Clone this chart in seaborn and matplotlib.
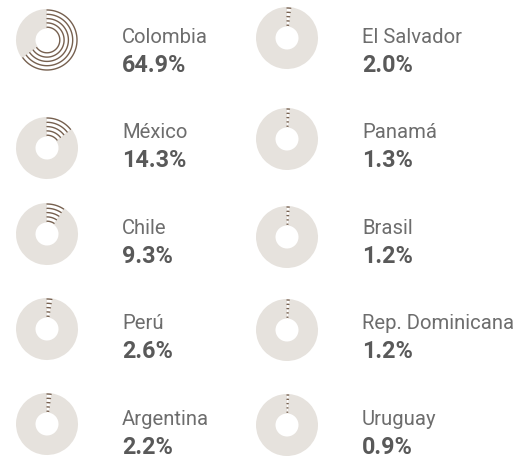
import numpy as np
import pandas as pd
import matplotlib
matplotlib.use("Agg")
import matplotlib.pyplot as plt
from matplotlib.patches import Wedge
import seaborn as sns

# Data
countries = ["Colombia", "México", "Chile", "Perú", "Argentina",
             "El Salvador", "Panamá", "Brasil", "Rep. Dominicana", "Uruguay"]
shares = [64.9, 14.3, 9.3, 2.6, 2.2, 2.0, 1.3, 1.2, 1.2, 0.9]
share_labels = ["64.9%", "14.3%", "9.3%", "2.6%", "2.2%",
                "2.0%", "1.3%", "1.2%", "1.2%", "0.9%"]

# Layout (pixels from top-left)
W, H = 519, 460
DONUT_X = [47, 287]
DONUT_Y = [[41, 149, 235, 330, 425], [39, 140, 238, 331, 426]]
TEXT_X = [122, 362]
NAME_BASE = [43, 138, 234, 329, 425]
PCT_OFFSET = 29
R_OUT, R_IN = 31, 11.5
ARC_RADII = [12.8, 17.1, 21.4, 25.7, 30.0]

BEIGE = "#e6e2dd"
BROWN = "#76604f"
NAME_COLOR = "#6d6d6d"
PCT_COLOR = "#595959"

sns.set_theme(style="white")
plt.rcParams["font.family"] = ["Roboto", "DejaVu Sans"]

fig = plt.figure(figsize=(W / 100, H / 100), dpi=100)
ax = fig.add_axes([0, 0, 1, 1])

rows = []
for i, (name, share, lab) in enumerate(zip(countries, shares, share_labels)):
    col, row = divmod(i, 5)
    cx = DONUT_X[col]
    cy = H - DONUT_Y[col][row]
    end = 90 - 360 * share / 100
    # remaining share as a beige ring
    ax.add_patch(Wedge((cx, cy), R_OUT, -270, end, width=R_OUT - R_IN,
                       facecolor=BEIGE, edgecolor="none"))
    # share itself as concentric arcs, clockwise from 12 o'clock
    theta = np.radians(np.linspace(90, end, 120))
    for k, r in enumerate(ARC_RADII):
        rows.append(pd.DataFrame({"x": cx + r * np.cos(theta),
                                  "y": cy + r * np.sin(theta),
                                  "arc": f"{i}-{k}"}))
    tx = TEXT_X[col]
    ax.text(tx, H - NAME_BASE[row], name, fontsize=14.6, color=NAME_COLOR,
            ha="left", va="baseline")
    ax.text(tx, H - NAME_BASE[row] - PCT_OFFSET, lab, fontsize=16.8,
            fontweight="bold", color=PCT_COLOR, ha="left", va="baseline")

arcs = pd.concat(rows, ignore_index=True)
sns.lineplot(data=arcs, x="x", y="y", units="arc", estimator=None, sort=False,
             color=BROWN, linewidth=1.0, ax=ax)
ax.set_xlim(0, W)
ax.set_ylim(0, H)
ax.set_aspect("equal")
ax.axis("off")

fig.savefig("out.png", dpi=100)
